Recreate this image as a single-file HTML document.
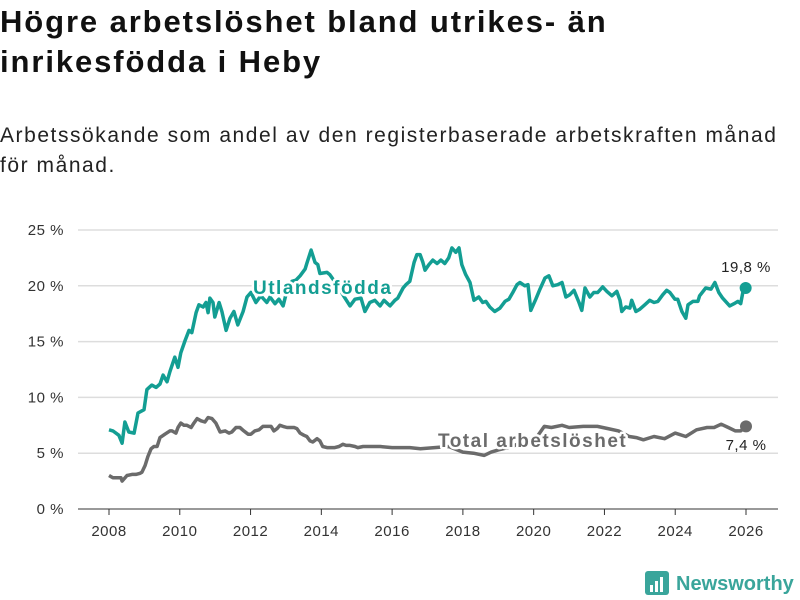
<!DOCTYPE html>
<html><head><meta charset="utf-8">
<style>
body{margin:0;background:#fff;font-family:"Liberation Sans",sans-serif;}
#wrap{position:relative;width:800px;height:600px;overflow:hidden;}
h1{position:absolute;left:0;top:2px;margin:0;font-size:31px;line-height:40px;font-weight:bold;color:#111;letter-spacing:1.9px;}
.sub{position:absolute;left:0;top:121px;margin:0;font-size:21px;line-height:30px;color:#222;letter-spacing:1.55px;}
svg{position:absolute;left:0;top:0;}
</style></head><body>
<div id="wrap">
<h1>Högre arbetslöshet bland utrikes- än<br>inrikesfödda i Heby</h1>
<p class="sub">Arbetssökande som andel av den registerbaserade arbetskraften månad<br>för månad.</p>
<svg id="chart" width="800" height="600"></svg>
</div>
<script>
const yTicks=[0,5,10,15,20,25];
const xTicks=[2008,2010,2012,2014,2016,2018,2020,2022,2024,2026];
const foreignYears=[0,.11,.28,.37,.45,.56,.71,.82,.99,1.07,1.21,1.33,1.44,1.53,1.64,1.72,1.86,1.95,2.03,2.15,2.26,2.34,2.46,2.54,2.66,2.74,2.80,2.85,2.94,2.99,3.11,3.19,3.31,3.42,3.53,3.64,3.79,3.90,4.01,4.15,4.29,4.46,4.55,4.69,4.80,4.92,5.03,5.17,5.28,5.40,5.54,5.59,5.71,5.82,5.90,5.96,6.16,6.24,6.44,6.67,6.81,6.95,7.12,7.23,7.37,7.51,7.66,7.77,7.94,8.08,8.16,8.31,8.39,8.50,8.62,8.70,8.79,8.87,8.93,9.04,9.15,9.27,9.38,9.49,9.60,9.69,9.80,9.89,9.97,10.08,10.20,10.31,10.45,10.56,10.65,10.76,10.90,11.05,11.19,11.30,11.41,11.53,11.61,11.75,11.84,11.92,12.06,12.18,12.32,12.43,12.54,12.68,12.80,12.91,13.02,13.14,13.28,13.36,13.45,13.59,13.70,13.81,13.95,14.07,14.21,14.35,14.44,14.49,14.60,14.72,14.77,14.89,15.00,15.14,15.28,15.40,15.51,15.65,15.76,15.85,15.99,16.07,16.19,16.30,16.36,16.50,16.64,16.69,16.86,17.01,17.12,17.23,17.34,17.54,17.66,17.77,17.85,17.91,17.99];
const foreignValues=[7.1,7.0,6.6,5.9,7.8,6.9,6.8,8.6,8.9,10.7,11.1,10.9,11.2,12.0,11.4,12.3,13.6,12.7,14.0,15.1,16.0,15.8,17.6,18.3,18.1,18.5,17.6,18.9,18.5,17.2,18.5,17.7,16.0,17.1,17.7,16.5,17.7,19.0,19.4,18.5,19.1,18.5,19.0,18.4,18.8,18.2,19.6,20.4,20.5,20.9,21.5,22.0,23.2,22.1,21.9,21.1,21.2,21.0,20.1,18.9,18.2,18.8,18.9,17.7,18.5,18.7,18.2,18.7,18.2,18.7,18.9,19.8,20.1,20.4,22.1,22.8,22.8,22.1,21.4,21.9,22.3,22.0,22.3,22.0,22.5,23.4,23.0,23.4,21.9,21.0,20.3,18.7,19.0,18.5,18.6,18.1,17.7,18.0,18.6,18.8,19.4,20.1,20.3,20.0,20.1,17.8,18.8,19.7,20.7,20.9,20.0,20.1,20.3,19.0,19.2,19.6,18.5,17.8,19.8,19.0,19.4,19.4,19.9,19.5,19.1,19.5,18.7,17.7,18.1,18.0,18.7,17.7,17.9,18.3,18.7,18.5,18.6,19.2,19.6,19.4,18.8,18.8,17.7,17.1,18.3,18.6,18.6,19.1,19.8,19.7,20.3,19.4,18.9,18.2,18.4,18.6,18.4,19.4,19.8];
const totalYears=[0,.11,.23,.34,.37,.51,.65,.76,.88,.93,1.02,1.10,1.19,1.27,1.36,1.44,1.58,1.72,1.78,1.89,1.95,2.03,2.12,2.20,2.32,2.40,2.49,2.60,2.71,2.80,2.91,3.02,3.14,3.28,3.39,3.47,3.59,3.70,3.81,3.93,4.01,4.12,4.24,4.35,4.46,4.58,4.66,4.75,4.83,4.92,5.03,5.11,5.23,5.31,5.40,5.51,5.59,5.68,5.76,5.88,5.96,6.04,6.16,6.27,6.38,6.50,6.61,6.70,6.81,6.95,7.03,7.18,7.37,7.66,8.0,8.5,8.8,9.2,9.6,10.0,10.3,10.6,10.8,11.0,11.4,11.8,12.1,12.3,12.5,12.8,13.0,13.4,13.8,14.1,14.4,14.7,14.9,15.1,15.4,15.7,16.0,16.3,16.6,16.9,17.1,17.3,17.5,17.7,17.85,18.0];
const totalValues=[3.0,2.8,2.8,2.8,2.5,3.0,3.1,3.1,3.2,3.3,3.9,4.7,5.4,5.6,5.6,6.4,6.7,7.0,7.0,6.8,7.3,7.7,7.5,7.5,7.3,7.7,8.1,7.9,7.8,8.2,8.1,7.7,6.9,7.0,6.8,6.9,7.3,7.3,7.0,6.7,6.7,7.0,7.1,7.4,7.4,7.4,7.0,7.2,7.5,7.4,7.3,7.3,7.3,7.2,6.8,6.6,6.5,6.1,6.0,6.3,6.1,5.6,5.5,5.5,5.5,5.6,5.8,5.7,5.7,5.6,5.5,5.6,5.6,5.6,5.5,5.5,5.4,5.5,5.6,5.1,5.0,4.8,5.1,5.3,5.6,6.2,6.5,7.4,7.3,7.5,7.3,7.4,7.4,7.2,7.0,6.5,6.4,6.2,6.5,6.3,6.8,6.5,7.1,7.3,7.3,7.6,7.3,7.0,7.0,7.4];
const baseYear=2008;
const svg=document.getElementById('chart');
const NS='http://www.w3.org/2000/svg';
const X0=109,X1=746,Y0=509,Y25=230;
function xs(y){return X0+(y-2008)/18*(X1-X0);}
function ys(v){return Y0-v/25*(Y0-Y25);}
function mk(tag,attrs){const e=document.createElementNS(NS,tag);for(const k in attrs)e.setAttribute(k,attrs[k]);svg.appendChild(e);return e;}
yTicks.forEach(t=>{
  const l=mk('line',{x1:78,x2:778,y1:ys(t),y2:ys(t),stroke:t===0?'#333':'#ddd','stroke-width':t===0?1:1.5});
  
  
  const tx=mk('text',{x:64,y:ys(t)+5,'text-anchor':'end','font-size':15,fill:'#333','letter-spacing':0.5});
  tx.textContent=t+' %';
  
  
});
xTicks.forEach(t=>{
  const l=mk('line',{x1:xs(t),x2:xs(t),y1:509,y2:515,stroke:'#333'});
  
  
  const tx=mk('text',{x:xs(t),y:536,'text-anchor':'middle','font-size':15,fill:'#333','letter-spacing':0.5});
  tx.textContent=t;
  
  
});
function line(years,vals,color,name){
  const d=years.map((y,i)=>(i?'L':'M')+xs(baseYear+y).toFixed(1)+','+ys(vals[i]).toFixed(1)).join('');
  const p=mk('path',{d:d,fill:'none',stroke:color,'stroke-width':3.5,'stroke-linejoin':'round'});
  
  
  const n=years.length-1;
  const c=mk('circle',{cx:xs(baseYear+years[n]),cy:ys(vals[n]),r:6,fill:color});
  
  
}
line(totalYears,totalValues,'#6b6b6b','total-line');
line(foreignYears,foreignValues,'#139e93','foreign-born-line');
function lab(x,y,txt,color,name,size,weight,anchor,halo,ls){
  const t=mk('text',{x:x,y:y,'font-size':size,'font-weight':weight,fill:color,'text-anchor':anchor,'letter-spacing':ls||0});
  if(halo){t.setAttribute('stroke','#fff');t.setAttribute('stroke-width',5);t.setAttribute('paint-order','stroke');t.setAttribute('stroke-linejoin','round');}
  t.textContent=txt;
  
  
}
lab(253,294,'Utlandsfödda','#139e93','foreign-born-label',19,'bold','start',true,1.5);
lab(438,447,'Total arbetslöshet','#6b6b6b','total-label',19,'bold','start',true,1.5);
lab(746,272,'19,8 %','#222','foreign-end-value',15,'normal','middle',false,0.5);
lab(746,450,'7,4 %','#222','total-end-value',15,'normal','middle',false,0.5);
const g=mk('g',{});


const r=mk('rect',{x:645,y:571,width:24,height:24,rx:3,fill:'#3aa59b'});


[[650,585,3,7],[655,581,3,11],[660,577,3,15]].forEach(b=>{
  const br=mk('rect',{x:b[0],y:b[1],width:b[2],height:b[3],fill:'#fff'});
  
  
});
lab(676,590,'Newsworthy','#3aa59b','logo-text',20,'bold','start',false,0);
</script>
</body></html>
